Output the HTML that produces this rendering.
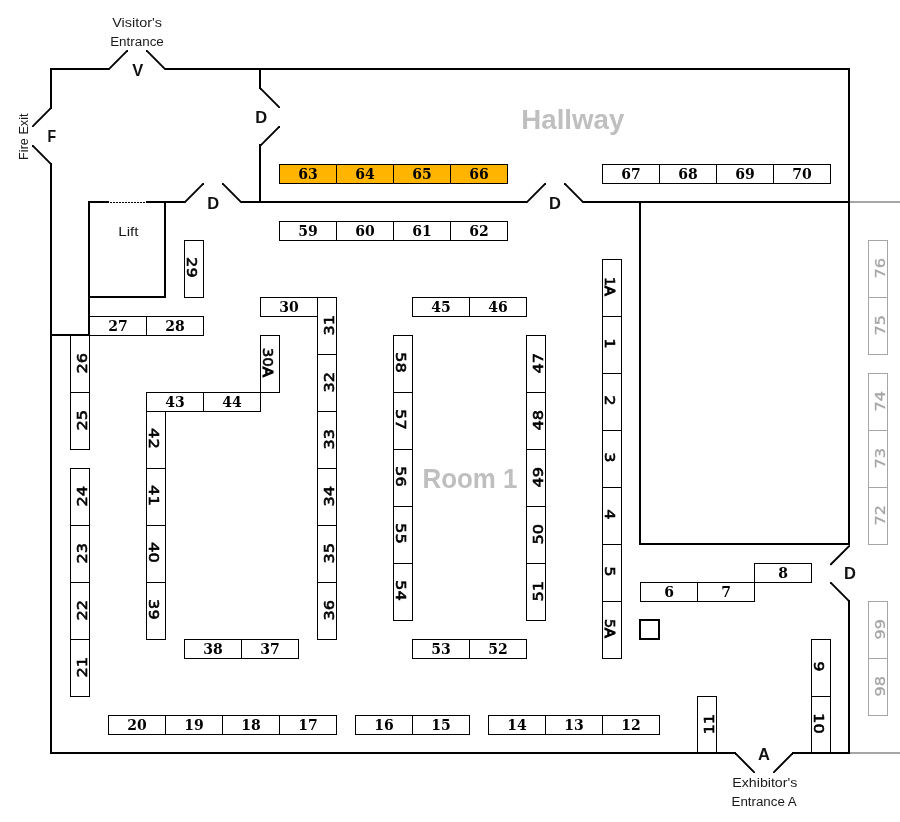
<!DOCTYPE html>
<html lang="en">
<head>
<meta charset="utf-8">
<title>Floor plan</title>
<style>
html,body{margin:0;padding:0;background:#fff;}
body{width:900px;height:822px;overflow:hidden;}
svg{display:block;will-change:transform;}
text{white-space:pre;}
</style>
</head>
<body>
<svg width="900" height="822" viewBox="0 0 900 822">
<rect width="900" height="822" fill="#fff"/>
<g shape-rendering="crispEdges">
<rect x="279.5" y="164.5" width="228" height="19" fill="#FFB400" stroke="none"/>
<rect x="279.5" y="164.5" width="228" height="19" fill="none" stroke="#000" stroke-width="1"/>
<line x1="336.5" y1="164.5" x2="336.5" y2="183.5" stroke="#000" stroke-width="1"/>
<line x1="393.5" y1="164.5" x2="393.5" y2="183.5" stroke="#000" stroke-width="1"/>
<line x1="450.5" y1="164.5" x2="450.5" y2="183.5" stroke="#000" stroke-width="1"/>
<rect x="279.5" y="221.5" width="228" height="19" fill="none" stroke="#000" stroke-width="1"/>
<line x1="336.5" y1="221.5" x2="336.5" y2="240.5" stroke="#000" stroke-width="1"/>
<line x1="393.5" y1="221.5" x2="393.5" y2="240.5" stroke="#000" stroke-width="1"/>
<line x1="450.5" y1="221.5" x2="450.5" y2="240.5" stroke="#000" stroke-width="1"/>
<rect x="602.5" y="164.5" width="228" height="19" fill="none" stroke="#000" stroke-width="1"/>
<line x1="659.5" y1="164.5" x2="659.5" y2="183.5" stroke="#000" stroke-width="1"/>
<line x1="716.5" y1="164.5" x2="716.5" y2="183.5" stroke="#000" stroke-width="1"/>
<line x1="773.5" y1="164.5" x2="773.5" y2="183.5" stroke="#000" stroke-width="1"/>
<rect x="260.5" y="297.5" width="57" height="19" fill="none" stroke="#000" stroke-width="1"/>
<rect x="412.5" y="297.5" width="114" height="19" fill="none" stroke="#000" stroke-width="1"/>
<line x1="469.5" y1="297.5" x2="469.5" y2="316.5" stroke="#000" stroke-width="1"/>
<rect x="89.5" y="316.5" width="114" height="19" fill="none" stroke="#000" stroke-width="1"/>
<line x1="146.5" y1="316.5" x2="146.5" y2="335.5" stroke="#000" stroke-width="1"/>
<rect x="146.5" y="392.5" width="114" height="19" fill="none" stroke="#000" stroke-width="1"/>
<line x1="203.5" y1="392.5" x2="203.5" y2="411.5" stroke="#000" stroke-width="1"/>
<rect x="184.5" y="639.5" width="114" height="19" fill="none" stroke="#000" stroke-width="1"/>
<line x1="241.5" y1="639.5" x2="241.5" y2="658.5" stroke="#000" stroke-width="1"/>
<rect x="412.5" y="639.5" width="114" height="19" fill="none" stroke="#000" stroke-width="1"/>
<line x1="469.5" y1="639.5" x2="469.5" y2="658.5" stroke="#000" stroke-width="1"/>
<rect x="108.5" y="715.5" width="228" height="19" fill="none" stroke="#000" stroke-width="1"/>
<line x1="165.5" y1="715.5" x2="165.5" y2="734.5" stroke="#000" stroke-width="1"/>
<line x1="222.5" y1="715.5" x2="222.5" y2="734.5" stroke="#000" stroke-width="1"/>
<line x1="279.5" y1="715.5" x2="279.5" y2="734.5" stroke="#000" stroke-width="1"/>
<rect x="355.5" y="715.5" width="114" height="19" fill="none" stroke="#000" stroke-width="1"/>
<line x1="412.5" y1="715.5" x2="412.5" y2="734.5" stroke="#000" stroke-width="1"/>
<rect x="488.5" y="715.5" width="171" height="19" fill="none" stroke="#000" stroke-width="1"/>
<line x1="545.5" y1="715.5" x2="545.5" y2="734.5" stroke="#000" stroke-width="1"/>
<line x1="602.5" y1="715.5" x2="602.5" y2="734.5" stroke="#000" stroke-width="1"/>
<rect x="640.5" y="582.5" width="114" height="19" fill="none" stroke="#000" stroke-width="1"/>
<line x1="697.5" y1="582.5" x2="697.5" y2="601.5" stroke="#000" stroke-width="1"/>
<rect x="754.5" y="563.5" width="57" height="19" fill="none" stroke="#000" stroke-width="1"/>
<rect x="184.5" y="240.5" width="19" height="57" fill="none" stroke="#000" stroke-width="1"/>
<rect x="70.5" y="335.5" width="19" height="114" fill="none" stroke="#000" stroke-width="1"/>
<line x1="70.5" y1="392.5" x2="89.5" y2="392.5" stroke="#000" stroke-width="1"/>
<rect x="70.5" y="468.5" width="19" height="228" fill="none" stroke="#000" stroke-width="1"/>
<line x1="70.5" y1="525.5" x2="89.5" y2="525.5" stroke="#000" stroke-width="1"/>
<line x1="70.5" y1="582.5" x2="89.5" y2="582.5" stroke="#000" stroke-width="1"/>
<line x1="70.5" y1="639.5" x2="89.5" y2="639.5" stroke="#000" stroke-width="1"/>
<rect x="260.5" y="335.5" width="19" height="57" fill="none" stroke="#000" stroke-width="1"/>
<rect x="146.5" y="411.5" width="19" height="228" fill="none" stroke="#000" stroke-width="1"/>
<line x1="146.5" y1="468.5" x2="165.5" y2="468.5" stroke="#000" stroke-width="1"/>
<line x1="146.5" y1="525.5" x2="165.5" y2="525.5" stroke="#000" stroke-width="1"/>
<line x1="146.5" y1="582.5" x2="165.5" y2="582.5" stroke="#000" stroke-width="1"/>
<rect x="317.5" y="297.5" width="19" height="342" fill="none" stroke="#000" stroke-width="1"/>
<line x1="317.5" y1="354.5" x2="336.5" y2="354.5" stroke="#000" stroke-width="1"/>
<line x1="317.5" y1="411.5" x2="336.5" y2="411.5" stroke="#000" stroke-width="1"/>
<line x1="317.5" y1="468.5" x2="336.5" y2="468.5" stroke="#000" stroke-width="1"/>
<line x1="317.5" y1="525.5" x2="336.5" y2="525.5" stroke="#000" stroke-width="1"/>
<line x1="317.5" y1="582.5" x2="336.5" y2="582.5" stroke="#000" stroke-width="1"/>
<rect x="393.5" y="335.5" width="19" height="285" fill="none" stroke="#000" stroke-width="1"/>
<line x1="393.5" y1="392.5" x2="412.5" y2="392.5" stroke="#000" stroke-width="1"/>
<line x1="393.5" y1="449.5" x2="412.5" y2="449.5" stroke="#000" stroke-width="1"/>
<line x1="393.5" y1="506.5" x2="412.5" y2="506.5" stroke="#000" stroke-width="1"/>
<line x1="393.5" y1="563.5" x2="412.5" y2="563.5" stroke="#000" stroke-width="1"/>
<rect x="526.5" y="335.5" width="19" height="285" fill="none" stroke="#000" stroke-width="1"/>
<line x1="526.5" y1="392.5" x2="545.5" y2="392.5" stroke="#000" stroke-width="1"/>
<line x1="526.5" y1="449.5" x2="545.5" y2="449.5" stroke="#000" stroke-width="1"/>
<line x1="526.5" y1="506.5" x2="545.5" y2="506.5" stroke="#000" stroke-width="1"/>
<line x1="526.5" y1="563.5" x2="545.5" y2="563.5" stroke="#000" stroke-width="1"/>
<rect x="602.5" y="259.5" width="19" height="399" fill="none" stroke="#000" stroke-width="1"/>
<line x1="602.5" y1="316.5" x2="621.5" y2="316.5" stroke="#000" stroke-width="1"/>
<line x1="602.5" y1="373.5" x2="621.5" y2="373.5" stroke="#000" stroke-width="1"/>
<line x1="602.5" y1="430.5" x2="621.5" y2="430.5" stroke="#000" stroke-width="1"/>
<line x1="602.5" y1="487.5" x2="621.5" y2="487.5" stroke="#000" stroke-width="1"/>
<line x1="602.5" y1="544.5" x2="621.5" y2="544.5" stroke="#000" stroke-width="1"/>
<line x1="602.5" y1="601.5" x2="621.5" y2="601.5" stroke="#000" stroke-width="1"/>
<rect x="811.5" y="639.5" width="19" height="114" fill="none" stroke="#000" stroke-width="1"/>
<line x1="811.5" y1="696.5" x2="830.5" y2="696.5" stroke="#000" stroke-width="1"/>
<rect x="697.5" y="696.5" width="19" height="57" fill="none" stroke="#000" stroke-width="1"/>
<rect x="868.5" y="240.5" width="19" height="114" fill="none" stroke="#a6a6a6" stroke-width="1"/>
<line x1="868.5" y1="297.5" x2="887.5" y2="297.5" stroke="#a6a6a6" stroke-width="1"/>
<rect x="868.5" y="373.5" width="19" height="171" fill="none" stroke="#a6a6a6" stroke-width="1"/>
<line x1="868.5" y1="430.5" x2="887.5" y2="430.5" stroke="#a6a6a6" stroke-width="1"/>
<line x1="868.5" y1="487.5" x2="887.5" y2="487.5" stroke="#a6a6a6" stroke-width="1"/>
<rect x="868.5" y="601.5" width="19" height="114" fill="none" stroke="#a6a6a6" stroke-width="1"/>
<line x1="868.5" y1="658.5" x2="887.5" y2="658.5" stroke="#a6a6a6" stroke-width="1"/>
<line x1="849" y1="202" x2="900" y2="202" stroke="#a6a6a6" stroke-width="2"/>
<line x1="849" y1="753" x2="900" y2="753" stroke="#a6a6a6" stroke-width="2"/>
<rect x="51" y="68" width="58" height="2" fill="#000"/>
<rect x="165" y="68" width="685" height="2" fill="#000"/>
<rect x="50" y="68" width="2" height="40" fill="#000"/>
<rect x="50" y="163" width="2" height="591" fill="#000"/>
<rect x="51" y="752" width="685" height="2" fill="#000"/>
<rect x="792" y="752" width="58" height="2" fill="#000"/>
<rect x="848" y="68" width="2" height="477" fill="#000"/>
<rect x="848" y="600" width="2" height="154" fill="#000"/>
<rect x="259" y="68" width="2" height="21" fill="#000"/>
<rect x="259" y="144" width="2" height="59" fill="#000"/>
<rect x="89" y="201" width="20" height="2" fill="#000"/>
<rect x="146" y="201" width="39" height="2" fill="#000"/>
<rect x="241" y="201" width="286" height="2" fill="#000"/>
<rect x="583" y="201" width="267" height="2" fill="#000"/>
<rect x="88" y="201" width="2" height="135" fill="#000"/>
<rect x="164" y="201" width="2" height="97" fill="#000"/>
<rect x="89" y="296" width="77" height="2" fill="#000"/>
<rect x="51" y="334" width="39" height="2" fill="#000"/>
<rect x="639" y="201" width="2" height="344" fill="#000"/>
<rect x="640" y="543" width="210" height="2" fill="#000"/>
<rect x="640" y="619" width="20" height="2" fill="#000"/>
<rect x="640" y="638" width="20" height="2" fill="#000"/>
<rect x="639" y="619" width="2" height="21" fill="#000"/>
<rect x="658" y="619" width="2" height="21" fill="#000"/>
</g>
<line x1="109.5" y1="202.5" x2="146" y2="202.5" stroke="#000" stroke-width="1" stroke-dasharray="2 1" shape-rendering="crispEdges"/>
<polygon points="108.00,70.00 108.00,68.65 126.65,50.00 128.00,50.00 128.00,51.35 109.35,70.00" fill="#000"/>
<polygon points="146.00,50.00 147.35,50.00 166.00,68.65 166.00,70.00 164.65,70.00 146.00,51.35" fill="#000"/>
<polygon points="32.00,127.00 32.00,125.65 50.65,107.00 52.00,107.00 52.00,108.35 33.35,127.00" fill="#000"/>
<polygon points="32.00,145.00 33.35,145.00 52.00,163.65 52.00,165.00 50.65,165.00 32.00,146.35" fill="#000"/>
<polygon points="260.00,88.00 261.35,88.00 280.00,106.65 280.00,108.00 278.65,108.00 260.00,89.35" fill="#000"/>
<polygon points="260.00,146.00 260.00,144.65 278.65,126.00 280.00,126.00 280.00,127.35 261.35,146.00" fill="#000"/>
<polygon points="184.00,203.00 184.00,201.65 202.65,183.00 204.00,183.00 204.00,184.35 185.35,203.00" fill="#000"/>
<polygon points="222.00,183.00 223.35,183.00 242.00,201.65 242.00,203.00 240.65,203.00 222.00,184.35" fill="#000"/>
<polygon points="526.00,203.00 526.00,201.65 544.65,183.00 546.00,183.00 546.00,184.35 527.35,203.00" fill="#000"/>
<polygon points="564.00,183.00 565.35,183.00 584.00,201.65 584.00,203.00 582.65,203.00 564.00,184.35" fill="#000"/>
<polygon points="830.00,565.20 830.00,563.85 848.65,545.20 850.00,545.20 850.00,546.55 831.35,565.20" fill="#000"/>
<polygon points="830.00,582.00 831.35,582.00 850.00,600.65 850.00,602.00 848.65,602.00 830.00,583.35" fill="#000"/>
<polygon points="735.00,753.00 736.35,753.00 755.00,771.65 755.00,773.00 753.65,773.00 735.00,754.35" fill="#000"/>
<polygon points="773.00,773.00 773.00,771.65 791.65,753.00 793.00,753.00 793.00,754.35 774.35,773.00" fill="#000"/>
<text x="308.00" y="178.50" text-anchor="middle" font-family='"DejaVu Serif", "Liberation Serif", serif' font-weight="bold" font-size="14" fill="#000">63</text>
<text x="365.00" y="178.50" text-anchor="middle" font-family='"DejaVu Serif", "Liberation Serif", serif' font-weight="bold" font-size="14" fill="#000">64</text>
<text x="422.00" y="178.50" text-anchor="middle" font-family='"DejaVu Serif", "Liberation Serif", serif' font-weight="bold" font-size="14" fill="#000">65</text>
<text x="479.00" y="178.50" text-anchor="middle" font-family='"DejaVu Serif", "Liberation Serif", serif' font-weight="bold" font-size="14" fill="#000">66</text>
<text x="308.00" y="235.50" text-anchor="middle" font-family='"DejaVu Serif", "Liberation Serif", serif' font-weight="bold" font-size="14" fill="#000">59</text>
<text x="365.00" y="235.50" text-anchor="middle" font-family='"DejaVu Serif", "Liberation Serif", serif' font-weight="bold" font-size="14" fill="#000">60</text>
<text x="422.00" y="235.50" text-anchor="middle" font-family='"DejaVu Serif", "Liberation Serif", serif' font-weight="bold" font-size="14" fill="#000">61</text>
<text x="479.00" y="235.50" text-anchor="middle" font-family='"DejaVu Serif", "Liberation Serif", serif' font-weight="bold" font-size="14" fill="#000">62</text>
<text x="631.00" y="178.50" text-anchor="middle" font-family='"DejaVu Serif", "Liberation Serif", serif' font-weight="bold" font-size="14" fill="#000">67</text>
<text x="688.00" y="178.50" text-anchor="middle" font-family='"DejaVu Serif", "Liberation Serif", serif' font-weight="bold" font-size="14" fill="#000">68</text>
<text x="745.00" y="178.50" text-anchor="middle" font-family='"DejaVu Serif", "Liberation Serif", serif' font-weight="bold" font-size="14" fill="#000">69</text>
<text x="802.00" y="178.50" text-anchor="middle" font-family='"DejaVu Serif", "Liberation Serif", serif' font-weight="bold" font-size="14" fill="#000">70</text>
<text x="289.00" y="311.50" text-anchor="middle" font-family='"DejaVu Serif", "Liberation Serif", serif' font-weight="bold" font-size="14" fill="#000">30</text>
<text x="441.00" y="311.50" text-anchor="middle" font-family='"DejaVu Serif", "Liberation Serif", serif' font-weight="bold" font-size="14" fill="#000">45</text>
<text x="498.00" y="311.50" text-anchor="middle" font-family='"DejaVu Serif", "Liberation Serif", serif' font-weight="bold" font-size="14" fill="#000">46</text>
<text x="118.00" y="330.50" text-anchor="middle" font-family='"DejaVu Serif", "Liberation Serif", serif' font-weight="bold" font-size="14" fill="#000">27</text>
<text x="175.00" y="330.50" text-anchor="middle" font-family='"DejaVu Serif", "Liberation Serif", serif' font-weight="bold" font-size="14" fill="#000">28</text>
<text x="175.00" y="406.50" text-anchor="middle" font-family='"DejaVu Serif", "Liberation Serif", serif' font-weight="bold" font-size="14" fill="#000">43</text>
<text x="232.00" y="406.50" text-anchor="middle" font-family='"DejaVu Serif", "Liberation Serif", serif' font-weight="bold" font-size="14" fill="#000">44</text>
<text x="213.00" y="653.50" text-anchor="middle" font-family='"DejaVu Serif", "Liberation Serif", serif' font-weight="bold" font-size="14" fill="#000">38</text>
<text x="270.00" y="653.50" text-anchor="middle" font-family='"DejaVu Serif", "Liberation Serif", serif' font-weight="bold" font-size="14" fill="#000">37</text>
<text x="441.00" y="653.50" text-anchor="middle" font-family='"DejaVu Serif", "Liberation Serif", serif' font-weight="bold" font-size="14" fill="#000">53</text>
<text x="498.00" y="653.50" text-anchor="middle" font-family='"DejaVu Serif", "Liberation Serif", serif' font-weight="bold" font-size="14" fill="#000">52</text>
<text x="137.00" y="729.50" text-anchor="middle" font-family='"DejaVu Serif", "Liberation Serif", serif' font-weight="bold" font-size="14" fill="#000">20</text>
<text x="194.00" y="729.50" text-anchor="middle" font-family='"DejaVu Serif", "Liberation Serif", serif' font-weight="bold" font-size="14" fill="#000">19</text>
<text x="251.00" y="729.50" text-anchor="middle" font-family='"DejaVu Serif", "Liberation Serif", serif' font-weight="bold" font-size="14" fill="#000">18</text>
<text x="308.00" y="729.50" text-anchor="middle" font-family='"DejaVu Serif", "Liberation Serif", serif' font-weight="bold" font-size="14" fill="#000">17</text>
<text x="384.00" y="729.50" text-anchor="middle" font-family='"DejaVu Serif", "Liberation Serif", serif' font-weight="bold" font-size="14" fill="#000">16</text>
<text x="441.00" y="729.50" text-anchor="middle" font-family='"DejaVu Serif", "Liberation Serif", serif' font-weight="bold" font-size="14" fill="#000">15</text>
<text x="517.00" y="729.50" text-anchor="middle" font-family='"DejaVu Serif", "Liberation Serif", serif' font-weight="bold" font-size="14" fill="#000">14</text>
<text x="574.00" y="729.50" text-anchor="middle" font-family='"DejaVu Serif", "Liberation Serif", serif' font-weight="bold" font-size="14" fill="#000">13</text>
<text x="631.00" y="729.50" text-anchor="middle" font-family='"DejaVu Serif", "Liberation Serif", serif' font-weight="bold" font-size="14" fill="#000">12</text>
<text x="669.00" y="596.50" text-anchor="middle" font-family='"DejaVu Serif", "Liberation Serif", serif' font-weight="bold" font-size="14" fill="#000">6</text>
<text x="726.00" y="596.50" text-anchor="middle" font-family='"DejaVu Serif", "Liberation Serif", serif' font-weight="bold" font-size="14" fill="#000">7</text>
<text x="783.00" y="577.50" text-anchor="middle" font-family='"DejaVu Serif", "Liberation Serif", serif' font-weight="bold" font-size="14" fill="#000">8</text>
<text transform="translate(187.20,267.40) rotate(90) scale(1.0,1)" text-anchor="middle" font-family='"DejaVu Sans", "Liberation Sans", sans-serif' font-size="14.5" fill="#000" stroke="#000" stroke-width="0.6" textLength="20.6" lengthAdjust="spacingAndGlyphs">29</text>
<text transform="translate(86.50,363.20) rotate(-90) scale(1.0,1)" text-anchor="middle" font-family='"DejaVu Sans", "Liberation Sans", sans-serif' font-size="14.5" fill="#000" stroke="#000" stroke-width="0.6" textLength="20.6" lengthAdjust="spacingAndGlyphs">26</text>
<text transform="translate(86.50,420.20) rotate(-90) scale(1.0,1)" text-anchor="middle" font-family='"DejaVu Sans", "Liberation Sans", sans-serif' font-size="14.5" fill="#000" stroke="#000" stroke-width="0.6" textLength="20.6" lengthAdjust="spacingAndGlyphs">25</text>
<text transform="translate(86.50,496.20) rotate(-90) scale(1.0,1)" text-anchor="middle" font-family='"DejaVu Sans", "Liberation Sans", sans-serif' font-size="14.5" fill="#000" stroke="#000" stroke-width="0.6" textLength="20.6" lengthAdjust="spacingAndGlyphs">24</text>
<text transform="translate(86.50,553.20) rotate(-90) scale(1.0,1)" text-anchor="middle" font-family='"DejaVu Sans", "Liberation Sans", sans-serif' font-size="14.5" fill="#000" stroke="#000" stroke-width="0.6" textLength="20.6" lengthAdjust="spacingAndGlyphs">23</text>
<text transform="translate(86.50,610.20) rotate(-90) scale(1.0,1)" text-anchor="middle" font-family='"DejaVu Sans", "Liberation Sans", sans-serif' font-size="14.5" fill="#000" stroke="#000" stroke-width="0.6" textLength="20.6" lengthAdjust="spacingAndGlyphs">22</text>
<text transform="translate(86.50,667.20) rotate(-90) scale(1.0,1)" text-anchor="middle" font-family='"DejaVu Sans", "Liberation Sans", sans-serif' font-size="14.5" fill="#000" stroke="#000" stroke-width="0.6" textLength="20.6" lengthAdjust="spacingAndGlyphs">21</text>
<text transform="translate(263.20,362.40) rotate(90) scale(1.0,1)" text-anchor="middle" font-family='"DejaVu Sans", "Liberation Sans", sans-serif' font-size="14.5" fill="#000" stroke="#000" stroke-width="0.6" textLength="29.4" lengthAdjust="spacingAndGlyphs">30<tspan stroke-width="1.15">A</tspan></text>
<text transform="translate(149.20,438.40) rotate(90) scale(1.0,1)" text-anchor="middle" font-family='"DejaVu Sans", "Liberation Sans", sans-serif' font-size="14.5" fill="#000" stroke="#000" stroke-width="0.6" textLength="20.6" lengthAdjust="spacingAndGlyphs">42</text>
<text transform="translate(149.20,495.40) rotate(90) scale(1.0,1)" text-anchor="middle" font-family='"DejaVu Sans", "Liberation Sans", sans-serif' font-size="14.5" fill="#000" stroke="#000" stroke-width="0.6" textLength="20.6" lengthAdjust="spacingAndGlyphs">41</text>
<text transform="translate(149.20,552.40) rotate(90) scale(1.0,1)" text-anchor="middle" font-family='"DejaVu Sans", "Liberation Sans", sans-serif' font-size="14.5" fill="#000" stroke="#000" stroke-width="0.6" textLength="20.6" lengthAdjust="spacingAndGlyphs">40</text>
<text transform="translate(149.20,609.40) rotate(90) scale(1.0,1)" text-anchor="middle" font-family='"DejaVu Sans", "Liberation Sans", sans-serif' font-size="14.5" fill="#000" stroke="#000" stroke-width="0.6" textLength="20.6" lengthAdjust="spacingAndGlyphs">39</text>
<text transform="translate(333.50,325.20) rotate(-90) scale(1.0,1)" text-anchor="middle" font-family='"DejaVu Sans", "Liberation Sans", sans-serif' font-size="14.5" fill="#000" stroke="#000" stroke-width="0.6" textLength="20.6" lengthAdjust="spacingAndGlyphs">31</text>
<text transform="translate(333.50,382.20) rotate(-90) scale(1.0,1)" text-anchor="middle" font-family='"DejaVu Sans", "Liberation Sans", sans-serif' font-size="14.5" fill="#000" stroke="#000" stroke-width="0.6" textLength="20.6" lengthAdjust="spacingAndGlyphs">32</text>
<text transform="translate(333.50,439.20) rotate(-90) scale(1.0,1)" text-anchor="middle" font-family='"DejaVu Sans", "Liberation Sans", sans-serif' font-size="14.5" fill="#000" stroke="#000" stroke-width="0.6" textLength="20.6" lengthAdjust="spacingAndGlyphs">33</text>
<text transform="translate(333.50,496.20) rotate(-90) scale(1.0,1)" text-anchor="middle" font-family='"DejaVu Sans", "Liberation Sans", sans-serif' font-size="14.5" fill="#000" stroke="#000" stroke-width="0.6" textLength="20.6" lengthAdjust="spacingAndGlyphs">34</text>
<text transform="translate(333.50,553.20) rotate(-90) scale(1.0,1)" text-anchor="middle" font-family='"DejaVu Sans", "Liberation Sans", sans-serif' font-size="14.5" fill="#000" stroke="#000" stroke-width="0.6" textLength="20.6" lengthAdjust="spacingAndGlyphs">35</text>
<text transform="translate(333.50,610.20) rotate(-90) scale(1.0,1)" text-anchor="middle" font-family='"DejaVu Sans", "Liberation Sans", sans-serif' font-size="14.5" fill="#000" stroke="#000" stroke-width="0.6" textLength="20.6" lengthAdjust="spacingAndGlyphs">36</text>
<text transform="translate(396.20,362.40) rotate(90) scale(1.0,1)" text-anchor="middle" font-family='"DejaVu Sans", "Liberation Sans", sans-serif' font-size="14.5" fill="#000" stroke="#000" stroke-width="0.6" textLength="20.6" lengthAdjust="spacingAndGlyphs">58</text>
<text transform="translate(396.20,419.40) rotate(90) scale(1.0,1)" text-anchor="middle" font-family='"DejaVu Sans", "Liberation Sans", sans-serif' font-size="14.5" fill="#000" stroke="#000" stroke-width="0.6" textLength="20.6" lengthAdjust="spacingAndGlyphs">57</text>
<text transform="translate(396.20,476.40) rotate(90) scale(1.0,1)" text-anchor="middle" font-family='"DejaVu Sans", "Liberation Sans", sans-serif' font-size="14.5" fill="#000" stroke="#000" stroke-width="0.6" textLength="20.6" lengthAdjust="spacingAndGlyphs">56</text>
<text transform="translate(396.20,533.40) rotate(90) scale(1.0,1)" text-anchor="middle" font-family='"DejaVu Sans", "Liberation Sans", sans-serif' font-size="14.5" fill="#000" stroke="#000" stroke-width="0.6" textLength="20.6" lengthAdjust="spacingAndGlyphs">55</text>
<text transform="translate(396.20,590.40) rotate(90) scale(1.0,1)" text-anchor="middle" font-family='"DejaVu Sans", "Liberation Sans", sans-serif' font-size="14.5" fill="#000" stroke="#000" stroke-width="0.6" textLength="20.6" lengthAdjust="spacingAndGlyphs">54</text>
<text transform="translate(542.50,363.20) rotate(-90) scale(1.0,1)" text-anchor="middle" font-family='"DejaVu Sans", "Liberation Sans", sans-serif' font-size="14.5" fill="#000" stroke="#000" stroke-width="0.6" textLength="20.6" lengthAdjust="spacingAndGlyphs">47</text>
<text transform="translate(542.50,420.20) rotate(-90) scale(1.0,1)" text-anchor="middle" font-family='"DejaVu Sans", "Liberation Sans", sans-serif' font-size="14.5" fill="#000" stroke="#000" stroke-width="0.6" textLength="20.6" lengthAdjust="spacingAndGlyphs">48</text>
<text transform="translate(542.50,477.20) rotate(-90) scale(1.0,1)" text-anchor="middle" font-family='"DejaVu Sans", "Liberation Sans", sans-serif' font-size="14.5" fill="#000" stroke="#000" stroke-width="0.6" textLength="20.6" lengthAdjust="spacingAndGlyphs">49</text>
<text transform="translate(542.50,534.20) rotate(-90) scale(1.0,1)" text-anchor="middle" font-family='"DejaVu Sans", "Liberation Sans", sans-serif' font-size="14.5" fill="#000" stroke="#000" stroke-width="0.6" textLength="20.6" lengthAdjust="spacingAndGlyphs">50</text>
<text transform="translate(542.50,591.20) rotate(-90) scale(1.0,1)" text-anchor="middle" font-family='"DejaVu Sans", "Liberation Sans", sans-serif' font-size="14.5" fill="#000" stroke="#000" stroke-width="0.6" textLength="20.6" lengthAdjust="spacingAndGlyphs">51</text>
<text transform="translate(605.20,286.40) rotate(90) scale(1.0,1)" text-anchor="middle" font-family='"DejaVu Sans", "Liberation Sans", sans-serif' font-size="14.5" fill="#000" stroke="#000" stroke-width="0.6" textLength="19.0" lengthAdjust="spacingAndGlyphs">1<tspan stroke-width="1.15">A</tspan></text>
<text transform="translate(605.20,343.40) rotate(90) scale(1.0,1)" text-anchor="middle" font-family='"DejaVu Sans", "Liberation Sans", sans-serif' font-size="14.5" fill="#000" stroke="#000" stroke-width="0.6" textLength="10.3" lengthAdjust="spacingAndGlyphs">1</text>
<text transform="translate(605.20,400.40) rotate(90) scale(1.0,1)" text-anchor="middle" font-family='"DejaVu Sans", "Liberation Sans", sans-serif' font-size="14.5" fill="#000" stroke="#000" stroke-width="0.6" textLength="10.3" lengthAdjust="spacingAndGlyphs">2</text>
<text transform="translate(605.20,457.40) rotate(90) scale(1.0,1)" text-anchor="middle" font-family='"DejaVu Sans", "Liberation Sans", sans-serif' font-size="14.5" fill="#000" stroke="#000" stroke-width="0.6" textLength="10.3" lengthAdjust="spacingAndGlyphs">3</text>
<text transform="translate(605.20,514.40) rotate(90) scale(1.0,1)" text-anchor="middle" font-family='"DejaVu Sans", "Liberation Sans", sans-serif' font-size="14.5" fill="#000" stroke="#000" stroke-width="0.6" textLength="10.3" lengthAdjust="spacingAndGlyphs">4</text>
<text transform="translate(605.20,571.40) rotate(90) scale(1.0,1)" text-anchor="middle" font-family='"DejaVu Sans", "Liberation Sans", sans-serif' font-size="14.5" fill="#000" stroke="#000" stroke-width="0.6" textLength="10.3" lengthAdjust="spacingAndGlyphs">5</text>
<text transform="translate(605.20,628.40) rotate(90) scale(1.0,1)" text-anchor="middle" font-family='"DejaVu Sans", "Liberation Sans", sans-serif' font-size="14.5" fill="#000" stroke="#000" stroke-width="0.6" textLength="19.0" lengthAdjust="spacingAndGlyphs">5<tspan stroke-width="1.15">A</tspan></text>
<text transform="translate(814.20,666.40) rotate(90) scale(1.0,1)" text-anchor="middle" font-family='"DejaVu Sans", "Liberation Sans", sans-serif' font-size="14.5" fill="#000" stroke="#000" stroke-width="0.6" textLength="10.3" lengthAdjust="spacingAndGlyphs">9</text>
<text transform="translate(814.20,723.40) rotate(90) scale(1.0,1)" text-anchor="middle" font-family='"DejaVu Sans", "Liberation Sans", sans-serif' font-size="14.5" fill="#000" stroke="#000" stroke-width="0.6" textLength="20.6" lengthAdjust="spacingAndGlyphs">10</text>
<text transform="translate(713.50,724.20) rotate(-90) scale(1.0,1)" text-anchor="middle" font-family='"DejaVu Sans", "Liberation Sans", sans-serif' font-size="14.5" fill="#000" stroke="#000" stroke-width="0.6" textLength="20.6" lengthAdjust="spacingAndGlyphs">11</text>
<text transform="translate(884.50,268.20) rotate(-90) scale(1.0,1)" text-anchor="middle" font-family='"DejaVu Sans", "Liberation Sans", sans-serif' font-size="14.5" fill="#a6a6a6" stroke="#a6a6a6" stroke-width="0.3" textLength="20.6" lengthAdjust="spacingAndGlyphs">76</text>
<text transform="translate(884.50,325.20) rotate(-90) scale(1.0,1)" text-anchor="middle" font-family='"DejaVu Sans", "Liberation Sans", sans-serif' font-size="14.5" fill="#a6a6a6" stroke="#a6a6a6" stroke-width="0.3" textLength="20.6" lengthAdjust="spacingAndGlyphs">75</text>
<text transform="translate(884.50,401.20) rotate(-90) scale(1.0,1)" text-anchor="middle" font-family='"DejaVu Sans", "Liberation Sans", sans-serif' font-size="14.5" fill="#a6a6a6" stroke="#a6a6a6" stroke-width="0.3" textLength="20.6" lengthAdjust="spacingAndGlyphs">74</text>
<text transform="translate(884.50,458.20) rotate(-90) scale(1.0,1)" text-anchor="middle" font-family='"DejaVu Sans", "Liberation Sans", sans-serif' font-size="14.5" fill="#a6a6a6" stroke="#a6a6a6" stroke-width="0.3" textLength="20.6" lengthAdjust="spacingAndGlyphs">73</text>
<text transform="translate(884.50,515.20) rotate(-90) scale(1.0,1)" text-anchor="middle" font-family='"DejaVu Sans", "Liberation Sans", sans-serif' font-size="14.5" fill="#a6a6a6" stroke="#a6a6a6" stroke-width="0.3" textLength="20.6" lengthAdjust="spacingAndGlyphs">72</text>
<text transform="translate(884.50,629.20) rotate(-90) scale(1.0,1)" text-anchor="middle" font-family='"DejaVu Sans", "Liberation Sans", sans-serif' font-size="14.5" fill="#a6a6a6" stroke="#a6a6a6" stroke-width="0.3" textLength="20.6" lengthAdjust="spacingAndGlyphs">99</text>
<text transform="translate(884.50,686.20) rotate(-90) scale(1.0,1)" text-anchor="middle" font-family='"DejaVu Sans", "Liberation Sans", sans-serif' font-size="14.5" fill="#a6a6a6" stroke="#a6a6a6" stroke-width="0.3" textLength="20.6" lengthAdjust="spacingAndGlyphs">98</text>
<text x="137.1" y="26.7" text-anchor="middle" font-family='"Liberation Sans", sans-serif' font-weight="normal" font-size="12.5" fill="#1a1a1a" textLength="49.6" lengthAdjust="spacingAndGlyphs">Visitor&#39;s</text>
<text x="137.0" y="45.8" text-anchor="middle" font-family='"Liberation Sans", sans-serif' font-weight="normal" font-size="12.5" fill="#1a1a1a" textLength="53.6" lengthAdjust="spacingAndGlyphs">Entrance</text>
<text x="764.8" y="786.8" text-anchor="middle" font-family='"Liberation Sans", sans-serif' font-weight="normal" font-size="12.5" fill="#1a1a1a" textLength="65" lengthAdjust="spacingAndGlyphs">Exhibitor&#39;s</text>
<text x="764.1" y="806.0" text-anchor="middle" font-family='"Liberation Sans", sans-serif' font-weight="normal" font-size="12.5" fill="#1a1a1a" textLength="65.2" lengthAdjust="spacingAndGlyphs">Entrance A</text>
<text x="128.4" y="236" text-anchor="middle" font-family='"Liberation Sans", sans-serif' font-weight="normal" font-size="12.5" fill="#1a1a1a" textLength="20.4" lengthAdjust="spacingAndGlyphs">Lift</text>
<text transform="translate(27.9,136.7) rotate(-90)" text-anchor="middle" font-family='"Liberation Sans", sans-serif' font-size="12.5" fill="#1a1a1a" textLength="46.4" lengthAdjust="spacingAndGlyphs">Fire Exit</text>
<text x="137.8" y="75.5" text-anchor="middle" font-family='"Liberation Sans", sans-serif' font-weight="bold" font-size="16.5" fill="#111">V</text>
<text x="51.8" y="141.7" text-anchor="middle" font-family='"Liberation Sans", sans-serif' font-weight="bold" font-size="16.5" fill="#111" textLength="8.6" lengthAdjust="spacingAndGlyphs">F</text>
<text x="261.2" y="122.5" text-anchor="middle" font-family='"Liberation Sans", sans-serif' font-weight="bold" font-size="16.5" fill="#111">D</text>
<text x="213.3" y="208.7" text-anchor="middle" font-family='"Liberation Sans", sans-serif' font-weight="bold" font-size="16.5" fill="#111">D</text>
<text x="555" y="208.7" text-anchor="middle" font-family='"Liberation Sans", sans-serif' font-weight="bold" font-size="16.5" fill="#111">D</text>
<text x="850" y="578.5" text-anchor="middle" font-family='"Liberation Sans", sans-serif' font-weight="bold" font-size="16.5" fill="#111">D</text>
<text x="763.9" y="759.5" text-anchor="middle" font-family='"Liberation Sans", sans-serif' font-weight="bold" font-size="16.5" fill="#111">A</text>
<text x="572.8" y="128.8" text-anchor="middle" font-family='"Liberation Sans", sans-serif' font-weight="bold" font-size="28" fill="#bfbfbf" textLength="103" lengthAdjust="spacingAndGlyphs">Hallway</text>
<text x="470" y="487.6" text-anchor="middle" font-family='"Liberation Sans", sans-serif' font-weight="bold" font-size="28" fill="#bfbfbf" textLength="95" lengthAdjust="spacingAndGlyphs">Room 1</text>
</svg>
</body>
</html>
